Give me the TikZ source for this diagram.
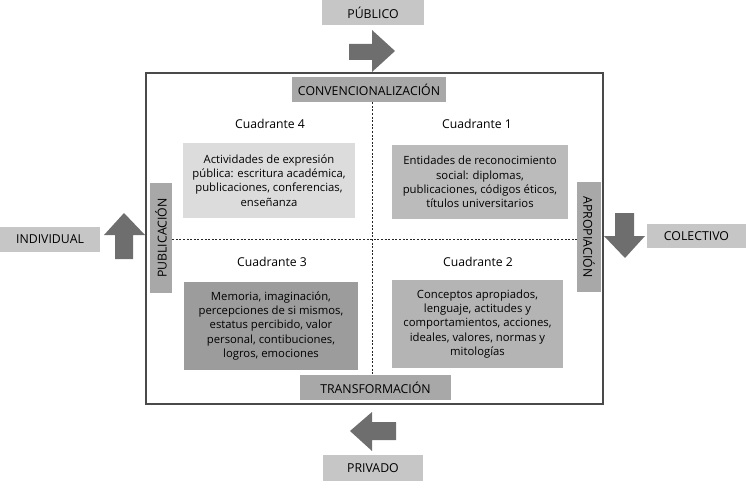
\documentclass[tikz,border=0pt]{standalone}
\usepackage{fontspec}
\setmainfont{Open Sans}
\definecolor{lightbox}{HTML}{C6C6C6}
\definecolor{midbox}{HTML}{A8A8A8}
\definecolor{arrowgray}{HTML}{6E6E6E}
\definecolor{qfour}{HTML}{DCDCDC}
\definecolor{qone}{HTML}{BBBBBB}
\definecolor{qthree}{HTML}{9C9C9C}
\definecolor{qtwo}{HTML}{B4B4B4}
\definecolor{framegray}{HTML}{4A4A4A}
\begin{document}
\begin{tikzpicture}[x=1pt,y=-1pt,
  tagbox/.style={rectangle, inner sep=0pt, font=\fontsize{12.3}{14}\selectfont, text=black},
  qbox/.style={rectangle, inner sep=0pt, align=center, font=\fontsize{11.3}{14.3}\selectfont, text=black},
  qlabel/.style={inner sep=0pt, font=\fontsize{12.2}{14}\selectfont, text=black},
  bigarrow/.style={fill=arrowgray, draw=none},
  divider/.style={draw=black!85, line width=0.8pt, dash pattern=on 2pt off 1.6pt}]
\useasboundingbox (0,0) rectangle (746,481);
% frame
\draw[framegray, line width=1.3pt] (146,73) rectangle (603,404);
% outer tags
\node[tagbox, fill=lightbox, minimum width=102, minimum height=25] (pub) at (373,12.5) {PÚBLICO};
\node[tagbox, fill=lightbox, minimum width=100, minimum height=26] (priv) at (373,468) {PRIVADO};
\node[tagbox, fill=lightbox, minimum width=100, minimum height=25] (indiv) at (50,239.5) {INDIVIDUAL};
\node[tagbox, fill=lightbox, minimum width=99, minimum height=24] (colect) at (696.5,236) {COLECTIVO};
% inner tags
\node[tagbox, fill=midbox, minimum width=154, minimum height=25] (conv) at (369,89.5) {CONVENCIONALIZACIÓN};
\node[tagbox, fill=midbox, minimum width=151, minimum height=25] (trans) at (375.5,387.5) {TRANSFORMACIÓN};
\node[tagbox, fill=midbox, minimum width=110, minimum height=22, rotate=90] (publ) at (161,238) {PUBLICACIÓN};
\node[tagbox, fill=midbox, minimum width=110, minimum height=24, rotate=-90] (aprop) at (589,237) {APROPIACIÓN};
% dividers
\draw[divider] (conv.south -| 372,0) -- (trans.north -| 372,0);
\draw[divider] (publ.south |- 0,239) -- (aprop.south |- 0,239);
% quadrant labels
\node[qlabel] (c4) at (270,124) {Cuadrante 4};
\node[qlabel] (c1) at (477,124) {Cuadrante 1};
\node[qlabel] (c3) at (272,262) {Cuadrante 3};
\node[qlabel] (c2) at (478,262) {Cuadrante 2};
% quadrant boxes
\node[qbox, fill=qfour, minimum width=172, minimum height=75] (q4) at (269,180.5)
  {Actividades de expresión\\pública: escritura académica,\\publicaciones, conferencias,\\enseñanza};
\node[qbox, fill=qone, minimum width=176, minimum height=74] (q1) at (480,182)
  {Entidades de reconocimiento\\social: diplomas,\\publicaciones, códigos éticos,\\títulos universitarios};
\node[qbox, fill=qthree, minimum width=174, minimum height=88] (q3) at (271,326)
  {Memoria, imaginación,\\percepciones de si mismos,\\estatus percibido, valor\\personal, contibuciones,\\logros, emociones};
\node[qbox, fill=qtwo, minimum width=171, minimum height=88] (q2) at (477.5,324)
  {Conceptos apropiados,\\lenguaje, actitudes y\\comportamientos, acciones,\\ideales, valores, normas y\\mitologías};
% arrows
\fill[bigarrow] (349,44) -- (372,44) -- (372,30) -- (395,51) -- (372,72) -- (372,60) -- (349,60) -- cycle;
\fill[bigarrow] (115,259) -- (115,235) -- (104,235) -- (124,213) -- (145,235) -- (133,235) -- (133,259) -- cycle;
\fill[bigarrow] (615,213) -- (634,213) -- (634,236) -- (645,236) -- (625,258) -- (604,236) -- (615,236) -- cycle;
\fill[bigarrow] (396,422) -- (372,422) -- (372,412) -- (350,431) -- (372,451) -- (372,440) -- (396,440) -- cycle;
\end{tikzpicture}
\end{document}
